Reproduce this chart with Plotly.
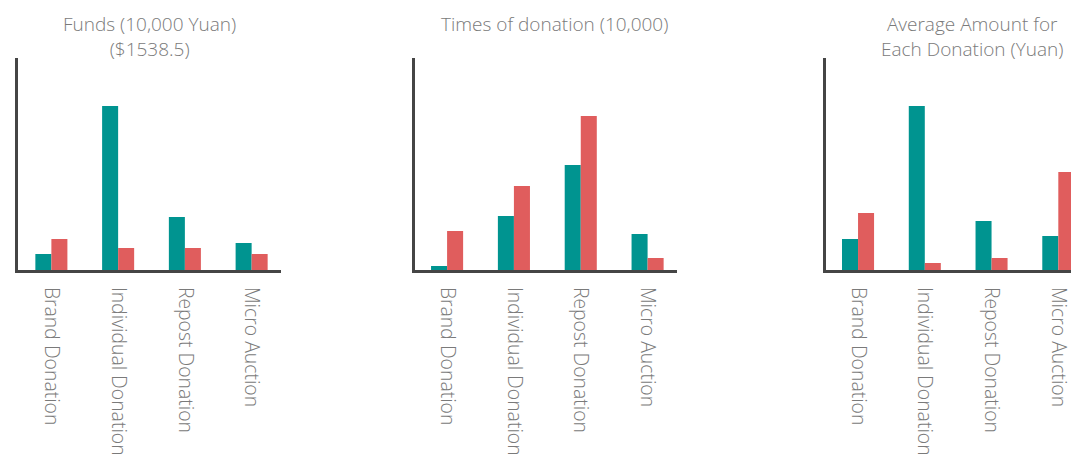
import plotly.graph_objects as go

# categories shared by the three panels
categories = ["Brand Donation", "Individual Donation", "Repost Donation", "Micro Auction"]

# panel values (arbitrary units, same scale per panel)
funds_teal = [16, 164, 53, 27]
funds_red = [31, 22, 22, 16]
times_teal = [4, 54, 105, 36]
times_red = [39, 84, 154, 12]
avg_teal = [31, 164, 49, 34]
avg_red = [57, 7, 12, 98]

titles = ["Funds (10,000 Yuan)<br>($1538.5)", "Times of donation (10,000)",
          "Average Amount for<br>Each Donation (Yuan)"]

TEAL = "#009490"
RED = "#E05D5D"
AXIS = "#454545"
TEXT = "#7a7a7a"
FONT = "Open Sans"

# the page body adds an 8px margin, so the figure is 8px smaller than the window
W, H = 1071, 447
OFF = 8
TOP, PLOT_H = 50, 212

fig = go.Figure()

panels = [(funds_teal, funds_red), (times_teal, times_red), (avg_teal, avg_red)]
for i, (teal, red) in enumerate(panels):
    n = "" if i == 0 else str(i + 1)
    fig.add_trace(go.Bar(x=categories, y=teal, marker=dict(color=TEAL, line_width=0),
                         xaxis="x" + n, yaxis="y" + n, showlegend=False))
    fig.add_trace(go.Bar(x=categories, y=red, marker=dict(color=RED, line_width=0),
                         xaxis="x" + n, yaxis="y" + n, showlegend=False))

# panel edges in window pixels
doms = [(18, 281), (415, 677), (826, 1079)]
ranges = [(-0.5, 3.44), (-0.48, 3.44), (-0.48, 3.31)]

axis_common = dict(showline=True, linecolor=AXIS, linewidth=3, showgrid=False,
                   zeroline=False, automargin=False)
for i in range(3):
    n = "" if i == 0 else str(i + 1)
    xa = dict(axis_common, domain=[(doms[i][0] - OFF) / W, (doms[i][1] - OFF) / W],
              range=list(ranges[i]), anchor="y" + n, tickangle=90, ticks="outside",
              ticklen=10, tickcolor="rgba(0,0,0,0)",
              tickfont=dict(family=FONT, size=19.4, color=TEXT, weight=300))
    ya = dict(axis_common, domain=[0, 1], range=[0, 212], anchor="x" + n,
              showticklabels=False, ticks="")
    fig.layout["xaxis" + n] = xa
    fig.layout["yaxis" + n] = ya

# subplot titles, top of the text box just inside the figure
title_x = [149, 554, 972]
for t, x in zip(titles, title_x):
    fig.add_annotation(text=t, x=(x - OFF) / W, xref="paper",
                       y=1 + (TOP - 1) / PLOT_H, yref="paper",
                       yanchor="top", xanchor="center", showarrow=False,
                       font=dict(family=FONT, size=19, color=TEXT, weight=300))

fig.update_layout(
    width=W, height=H,
    margin=dict(l=0, r=0, t=TOP, b=H - TOP - PLOT_H),
    barmode="group", bargap=0.52, bargroupgap=0,
    plot_bgcolor="white", paper_bgcolor="white",
)

fig.write_html("out.html")
